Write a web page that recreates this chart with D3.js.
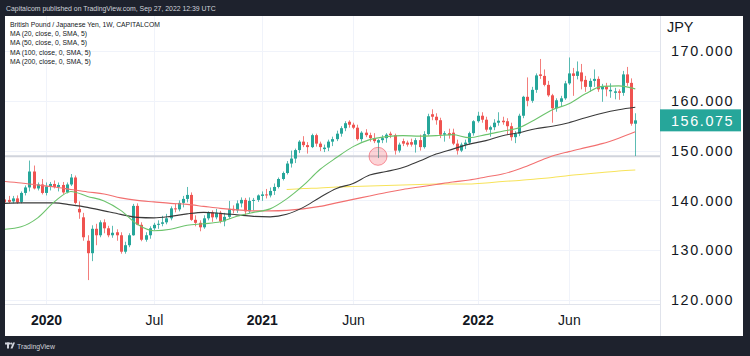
<!DOCTYPE html>
<html><head><meta charset="utf-8">
<script src="https://cdn.jsdelivr.net/npm/d3@7"></script>
<style>
html,body{margin:0;padding:0;background:#1e222d;}
svg{display:block;}
text{font-family:"Liberation Sans",Arial,sans-serif;}
</style></head><body>
<svg id="chart" width="750" height="356"></svg>
<script>
// ---- data ----
const firstWeek = "2019-10-28";
const lastWeek = "2022-09-26";
const opens = [140.2,140.1,139.8,140.4,139.7,141.5,142.6,145.8,142.4,143.2,
141.5,142.8,143.3,142.7,143.1,141.6,143.2,144.6,138.3,136.6,
131.9,129.4,134.3,133.0,135.6,134.4,133.0,133.6,133.0,129.7,
131.0,133.0,138.9,135.1,132.1,133.0,134.4,135.1,135.3,135.6,
136.4,138.4,138.2,139.5,140.3,141.1,136.1,135.5,134.6,136.4,
137.6,136.6,137.5,135.8,136.7,138.3,138.0,139.4,140.1,137.8,
139.9,140.1,140.9,141.2,141.0,141.9,142.7,144.3,145.5,147.4,
148.4,150.1,151.8,151.1,150.7,153.1,151.4,150.3,150.6,151.8,
152.3,153.4,154.5,155.8,155.2,154.6,152.3,153.6,153.1,152.5,
151.6,152.1,152.5,153.4,153.1,150.0,151.9,151.6,151.7,151.2,
152.1,150.7,153.3,157.3,156.8,156.1,153.2,153.5,153.6,151.4,
150.0,151.2,151.6,153.5,155.9,157.0,156.2,154.2,154.7,155.6,
156.0,155.9,154.9,152.7,153.4,157.0,160.8,160.0,162.2,165.3,
165.0,163.2,161.1,158.5,159.8,160.5,163.5,165.5,165.0,165.7,
164.2,162.8,164.0,164.4,162.3,162.9,161.9,161.6,161.9,161.6,
165.3,163.6,155.4];
const highs = [140.8,140.9,140.9,141.0,141.8,143.0,148.0,147.0,143.6,144.3,
143.6,143.7,144.0,143.6,143.7,143.6,145.3,145.0,139.8,137.5,
133.0,135.0,135.3,136.0,136.2,134.9,134.9,134.2,133.6,131.7,
133.4,139.3,139.4,135.6,133.6,134.8,135.5,136.0,136.9,137.3,
138.8,139.3,140.0,140.9,142.7,141.6,137.0,136.0,137.0,137.8,
138.0,138.3,137.9,137.5,139.9,139.0,140.0,140.6,140.5,140.6,
140.5,141.2,141.8,142.3,142.6,143.4,144.6,145.8,147.9,150.0,
150.4,152.1,152.9,151.7,153.4,153.4,151.8,151.2,152.2,152.8,
154.0,154.9,155.9,156.1,155.6,155.2,153.9,154.3,153.6,153.5,
152.3,153.1,153.5,153.8,153.4,151.6,152.4,152.0,152.4,152.5,
153.2,153.9,157.4,158.3,157.5,156.6,153.9,154.4,154.4,152.2,
151.6,152.2,153.8,156.1,157.8,157.7,156.8,155.0,156.3,157.7,
156.8,156.5,155.6,153.9,157.4,161.0,164.7,162.8,165.5,168.4,
166.3,164.0,161.4,160.5,161.0,164.0,168.7,166.6,167.9,167.4,
165.0,164.5,166.3,164.9,163.4,163.6,163.5,162.6,162.3,166.0,
166.8,164.5,157.5];
const lows = [139.3,139.4,139.4,139.3,139.4,141.0,141.8,142.2,142.0,141.2,
141.0,142.0,142.4,141.8,141.3,141.4,142.9,139.2,136.3,131.9,
124.0,127.8,131.0,132.6,133.4,132.6,132.5,131.9,129.3,129.3,
130.6,132.9,135.0,131.8,131.7,132.3,134.0,134.3,134.8,135.2,
136.0,137.6,137.8,138.6,139.6,135.9,134.8,133.8,134.3,136.0,
135.7,136.2,135.4,134.8,136.3,137.4,137.5,138.6,136.9,137.4,
138.0,139.7,139.9,140.4,140.6,141.1,142.4,144.0,145.2,146.6,
147.5,149.5,150.7,149.4,150.5,150.8,149.9,149.7,149.9,150.9,
151.9,152.8,153.9,154.6,154.3,152.0,151.8,152.7,151.8,151.5,
148.5,151.5,151.6,152.5,149.2,149.6,150.9,150.8,150.8,149.6,
150.0,150.4,153.0,156.1,155.2,152.5,151.8,152.4,151.1,149.2,
149.7,150.3,151.2,153.0,155.6,155.6,153.8,152.8,154.1,155.0,
155.2,153.2,152.0,151.5,152.9,156.5,158.9,159.6,161.6,164.4,
162.9,160.8,155.6,157.8,158.8,160.2,163.2,161.0,164.3,162.3,
161.8,161.8,162.8,161.8,159.8,160.9,160.6,160.3,160.2,161.0,
163.0,155.0,148.9];
const closes = [139.6,139.7,140.4,139.6,141.5,142.6,145.8,142.4,143.2,141.5,
142.8,143.3,142.7,143.1,141.6,143.2,144.6,139.5,137.6,132.6,
129.4,134.3,133.0,135.6,134.4,133.0,133.5,133.0,129.7,131.0,
133.0,138.9,135.1,132.1,133.0,134.4,135.1,135.3,135.6,136.4,
138.4,138.2,139.5,140.3,141.1,136.1,135.5,134.6,136.4,137.6,
136.6,137.5,135.8,136.7,138.3,138.0,139.4,140.1,137.8,139.9,
140.1,141.0,141.2,141.0,141.9,142.7,144.3,145.5,147.4,148.4,
150.1,151.8,151.1,150.7,153.1,151.4,150.7,150.6,151.8,152.3,
153.4,154.5,155.5,155.2,154.6,152.3,153.6,153.1,152.5,151.9,
152.1,152.5,153.2,153.1,150.0,151.2,151.4,151.2,151.2,152.1,
150.7,153.3,156.9,156.8,156.1,153.2,153.5,153.1,151.4,150.0,
151.2,151.6,153.5,155.9,157.0,156.2,154.2,154.7,155.6,156.0,
155.7,154.9,152.7,153.4,157.0,160.8,160.0,162.2,165.1,165.0,
163.2,161.1,158.5,160.1,160.5,163.5,165.5,165.0,165.9,163.9,
162.8,164.0,164.4,162.3,162.9,162.3,162.2,161.9,161.6,165.3,
163.6,155.4,156.075];

// moving averages, read at every 4th candle (index into the weekly candles)
const maIdx = [0,4,8,12,16,20,24,28,32,36,40,44,48,52,56,60,64,68,72,76,80,84,88,92,96,100,104,108,112,116,120,124,128,132,136,140,144,148,152];
const ma20 = [134.2,134.7,136.5,139.7,141.8,140.8,139.9,138.0,135.2,133.9,134.2,135.0,135.3,135.7,136.8,137.6,138.3,140.3,143.0,146.2,148.6,150.8,152.2,152.8,153.0,152.9,153.0,153.2,152.6,153.2,153.9,154.6,156.3,158.2,159.4,161.4,162.9,163.0,162.4];
const ma50 = [139.4,139.5,139.5,139.5,139.1,138.6,137.9,137.2,136.6,136.5,136.8,137.3,137.6,137.4,137.1,136.8,136.7,137.2,138.6,140.6,142.4,143.4,145.1,145.8,146.6,147.9,149.3,150.3,151.3,152.0,153.0,153.6,154.4,154.9,155.6,156.6,157.5,158.2,158.7];
const ma100 = [143.8,143.5,143.1,142.7,142.2,141.7,141.3,140.5,140.0,139.7,139.4,139.2,138.8,138.4,138.1,137.9,137.9,138.0,138.3,138.8,139.5,140.2,140.9,141.6,142.2,142.7,143.2,143.7,144.1,144.7,145.3,146.3,147.6,148.9,149.8,150.6,151.4,152.5,153.8];
const ma200 = [null,null,null,null,null,null,null,null,null,null,null,null,null,null,null,null,null,142.2,142.4,142.5,142.7,142.8,142.9,143.0,143.1,143.2,143.3,143.3,143.3,143.5,143.8,144.0,144.3,144.6,145.0,145.3,145.6,145.9,146.1];

const priceTicks = [120,130,140,150,160,170];
const timeTickDates = ["2020-01-06","2020-07-06","2021-01-04","2021-06-07","2022-01-03","2022-06-06"];
const timeTickLabels = ["2020","Jul","2021","Jun","2022","Jun"];
const lastPrice = 156.075;
const levelPrice = 148.85;
const circleWeek = "2021-07-19";
const headerText = "Capitalcom published on TradingView.com, Sep 27, 2022 12:39 UTC";
const legendLines = ["British Pound / Japanese Yen, 1W, CAPITALCOM","MA (20, close, 0, SMA, 5)","MA (50, close, 0, SMA, 5)","MA (100, close, 0, SMA, 5)","MA (200, close, 0, SMA, 5)"];

// ---- chart ----
const parse = d3.timeParse("%Y-%m-%d");
const weeks = d3.timeMonday.range(parse(firstWeek), d3.timeDay.offset(parse(lastWeek), 1));
const candles = weeks.map((d,i)=>({date:d,o:opens[i],h:highs[i],l:lows[i],c:closes[i]}));

const W=750,H=356;
const plot = {l:5, r:660, t:16, b:304};
const svg = d3.select("#chart");
svg.append("rect").attr("width",W).attr("height",H).attr("fill","#1e222d");
svg.append("rect").attr("x",5).attr("y",16).attr("width",738).attr("height",320).attr("fill","#ffffff");

const x = d3.scaleTime().domain([parse("2020-01-06"), parse("2022-09-26")]).range([46, 635.3]);
const y = d3.scaleLinear().domain([120,170]).range([300,51]);

svg.append("clipPath").attr("id","plotclip").append("rect")
  .attr("x",plot.l).attr("y",plot.t).attr("width",plot.r-plot.l).attr("height",plot.b-plot.t);

const grid = svg.append("g").attr("clip-path","url(#plotclip)");
grid.selectAll("line.h").data(priceTicks).join("line")
  .attr("x1",plot.l).attr("x2",plot.r).attr("y1",d=>Math.round(y(d))+0.5).attr("y2",d=>Math.round(y(d))+0.5)
  .attr("stroke","#f0f3fa").attr("stroke-width",1);
grid.selectAll("line.v").data(timeTickDates).join("line")
  .attr("x1",d=>Math.round(x(parse(d)))+0.5).attr("x2",d=>Math.round(x(parse(d)))+0.5)
  .attr("y1",plot.t).attr("y2",plot.b)
  .attr("stroke","#f0f3fa").attr("stroke-width",1);

const g = svg.append("g").attr("clip-path","url(#plotclip)");

// horizontal level line
g.append("line").attr("x1",plot.l).attr("x2",plot.r)
  .attr("y1",y(levelPrice)).attr("y2",y(levelPrice))
  .attr("stroke","#d1d4dc").attr("stroke-width",2);

const up="#26a69a", dn="#ef5350";
const cg = g.append("g");
cg.selectAll("line").data(candles).join("line")
  .attr("x1",d=>Math.round(x(d.date))+0.5).attr("x2",d=>Math.round(x(d.date))+0.5)
  .attr("y1",d=>y(d.h)).attr("y2",d=>y(d.l))
  .attr("stroke",d=>d.c>=d.o?up:dn).attr("stroke-opacity",0.75).attr("stroke-width",1);
cg.selectAll("rect").data(candles).join("rect")
  .attr("x",d=>Math.round(x(d.date))-1).attr("width",3)
  .attr("y",d=>y(Math.max(d.o,d.c)))
  .attr("height",d=>Math.max(1,Math.abs(y(d.o)-y(d.c))))
  .attr("fill",d=>d.c>=d.o?up:dn);

function maLine(vals, color, width){
  const pts = maIdx.map((k,i)=>({date:weeks[k], v:vals[i]}));
  const line = d3.line().defined(d=>d.v!=null).x(d=>x(d.date)).y(d=>y(d.v)).curve(d3.curveMonotoneX);
  g.append("path").datum(pts).attr("d",line).attr("fill","none")
    .attr("stroke",color).attr("stroke-width",width);
}
maLine(ma200,"#f7e35a",1.1);
maLine(ma100,"#f27070",1.1);
maLine(ma50,"#3a3a3a",1.1);
maLine(ma20,"#6cc36c",1.1);

// circle marker
g.append("circle").attr("cx",x(parse(circleWeek))).attr("cy",y(levelPrice)).attr("r",9)
  .attr("fill","rgba(242,54,69,0.22)").attr("stroke","rgba(242,54,69,0.5)").attr("stroke-width",1);

// borders
svg.append("line").attr("x1",660.5).attr("x2",660.5).attr("y1",16).attr("y2",336).attr("stroke","#e0e3eb");
svg.append("line").attr("x1",5).attr("x2",660).attr("y1",304.5).attr("y2",304.5).attr("stroke","#e0e3eb");

// price axis
const ya = svg.append("g").attr("transform","translate(660,0)")
  .call(d3.axisRight(y).tickValues(priceTicks).tickFormat(d3.format(".3f")).tickSize(0).tickPadding(11));
ya.select(".domain").remove();
ya.selectAll("text").attr("font-size","14.4px").attr("fill","#131722").attr("letter-spacing","1.6px")
  .style("font-family","'Liberation Sans',Arial,sans-serif");
svg.append("text").attr("x",667).attr("y",31.5).attr("font-size","14.4px").attr("fill","#131722").text("JPY");

// last price label
svg.append("rect").attr("x",660).attr("y",y(lastPrice)-11).attr("width",81).attr("height",22).attr("fill","#26a69a");
svg.append("text").attr("x",671).attr("y",y(lastPrice)).attr("dy","0.36em")
  .attr("font-size","14.4px").attr("fill","#ffffff").attr("letter-spacing","1.6px")
  .text(d3.format(".3f")(lastPrice));

// time axis
const xa = svg.append("g").attr("transform","translate(0,304)")
  .call(d3.axisBottom(x).tickValues(timeTickDates.map(parse)).tickFormat((d,i)=>timeTickLabels[i]).tickSize(0).tickPadding(11));
xa.select(".domain").remove();
xa.selectAll("text").attr("font-size","14px").attr("fill","#131722")
  .attr("font-weight",(d,i)=>/^\d{4}$/.test(timeTickLabels[i])?"bold":"normal")
  .style("font-family","'Liberation Sans',Arial,sans-serif");

// legend
svg.append("g").selectAll("text").data(legendLines).join("text")
  .attr("x",10).attr("y",(d,i)=>26.5+i*9.35).attr("font-size","6.8px").attr("fill","#131722").text(d=>d);

// header & footer
svg.append("text").attr("x",6).attr("y",11).attr("font-size","6.9px").attr("fill","#d1d4dc").text(headerText);
const logo = svg.append("g").attr("fill","#d1d4dc");
logo.append("rect").attr("x",5).attr("y",342.5).attr("width",5).attr("height",2);
logo.append("rect").attr("x",7).attr("y",342.5).attr("width",2).attr("height",6);
logo.append("circle").attr("cx",11.2).attr("cy",343.6).attr("r",1.1);
logo.append("path").attr("d","M10.5,348.5 L13,342.5 L15,342.5 L12.5,348.5 Z");
svg.append("text").attr("x",17).attr("y",348.5).attr("font-size","6.9px").attr("fill","#d1d4dc").text("TradingView");
</script>
</body></html>
